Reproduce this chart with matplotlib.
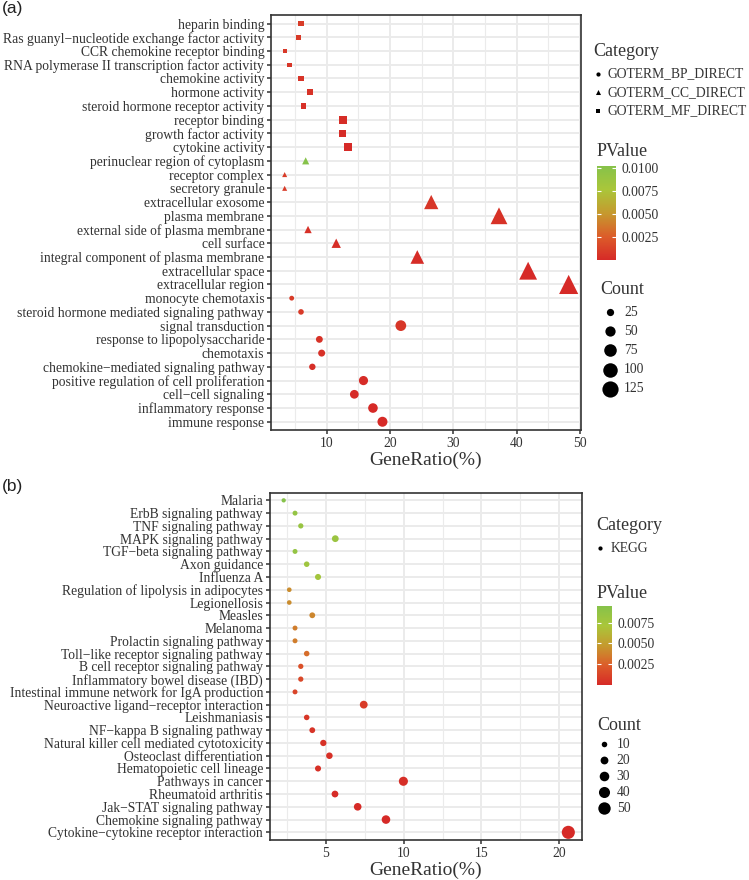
import matplotlib
matplotlib.use('Agg')
import matplotlib.pyplot as plt
import numpy as np
from matplotlib.colors import LinearSegmentedColormap, Normalize
from matplotlib.cm import ScalarMappable

plt.rcParams['font.family'] = ['Liberation Serif', 'DejaVu Serif']

# ---- panel (a): GO terms, listed top to bottom ----
go_terms = [
    'heparin binding', 'Ras guanyl\u2212nucleotide exchange factor activity',
    'CCR chemokine receptor binding', 'RNA polymerase II transcription factor activity',
    'chemokine activity', 'hormone activity', 'steroid hormone receptor activity',
    'receptor binding', 'growth factor activity', 'cytokine activity',
    'perinuclear region of cytoplasm', 'receptor complex', 'secretory granule',
    'extracellular exosome', 'plasma membrane', 'external side of plasma membrane',
    'cell surface', 'integral component of plasma membrane', 'extracellular space',
    'extracellular region', 'monocyte chemotaxis',
    'steroid hormone mediated signaling pathway', 'signal transduction',
    'response to lipopolysaccharide', 'chemotaxis',
    'chemokine\u2212mediated signaling pathway',
    'positive regulation of cell proliferation', 'cell\u2212cell signaling',
    'inflammatory response', 'immune response',
]
go_category = ['MF'] * 10 + ['CC'] * 10 + ['BP'] * 10
go_ratio = [5.94, 5.57, 3.36, 4.10, 5.94, 7.36, 6.30, 12.57, 12.50, 13.30,
            6.68, 3.36, 3.36, 26.5, 37.2, 7.05, 11.5, 24.3, 41.8, 48.2,
            4.47, 5.94, 21.7, 8.84, 9.20, 7.73, 15.8, 14.36, 17.3, 18.8]
go_count = [16, 15, 9, 11, 16, 20, 17, 34, 34, 36,
            18, 9, 9, 72, 100, 19, 31, 66, 113, 130,
            12, 16, 59, 24, 25, 21, 43, 39, 47, 51]
go_pvalue = [0.0009, 0.0008, 0.0007, 0.0006, 0.0005, 0.0004, 0.0003, 0.0002, 0.0001, 1e-6,
             0.0102, 0.0009, 0.0008, 0.0006, 0.0004, 0.0003, 0.0002, 0.0001, 1e-6, 1e-7,
             0.0009, 0.0008, 0.0006, 0.0004, 0.0003, 0.0002, 0.0001, 5e-5, 1e-6, 1e-8]
go_legend_names = ['GOTERM_BP_DIRECT', 'GOTERM_CC_DIRECT', 'GOTERM_MF_DIRECT']
go_size_breaks = [25, 50, 75, 100, 125]
go_p_ticks = [0.0025, 0.0050, 0.0075, 0.0100]

# ---- panel (b): KEGG pathways, listed top to bottom ----
kegg_terms = [
    'Malaria', 'ErbB signaling pathway', 'TNF signaling pathway',
    'MAPK signaling pathway', 'TGF\u2212beta signaling pathway', 'Axon guidance',
    'Influenza A', 'Regulation of lipolysis in adipocytes', 'Legionellosis',
    'Measles', 'Melanoma', 'Prolactin signaling pathway',
    'Toll\u2212like receptor signaling pathway', 'B cell receptor signaling pathway',
    'Inflammatory bowel disease (IBD)', 'Intestinal immune network for IgA production',
    'Neuroactive ligand\u2212receptor interaction', 'Leishmaniasis',
    'NF\u2212kappa B signaling pathway', 'Natural killer cell mediated cytotoxicity',
    'Osteoclast differentiation', 'Hematopoietic cell lineage', 'Pathways in cancer',
    'Rheumatoid arthritis', 'Jak\u2212STAT signaling pathway',
    'Chemokine signaling pathway', 'Cytokine\u2212cytokine receptor interaction',
]
kegg_ratio = [2.28, 3.01, 3.38, 5.60, 3.01, 3.76, 4.49, 2.64, 2.64, 4.12, 3.01, 3.01,
              3.76, 3.38, 3.38, 3.01, 7.43, 3.76, 4.12, 4.83, 5.22, 4.49, 9.98, 5.58,
              7.04, 8.86, 20.59]
kegg_count = [6, 8, 9, 15, 8, 10, 12, 7, 7, 11, 8, 8, 10, 9, 9, 8, 20, 10, 11, 13,
              14, 12, 27, 15, 19, 24, 56]
kegg_pvalue = [0.0095, 0.0086, 0.0083, 0.0081, 0.0086, 0.0078, 0.0076, 0.0042, 0.0042,
               0.0040, 0.0036, 0.0036, 0.0030, 0.0018, 0.0014, 0.0012, 0.0008, 0.0006,
               0.0005, 0.0004, 0.0003, 0.0003, 0.0002, 0.0001, 5e-5, 2e-5, 1e-6]
kegg_size_breaks = [10, 20, 30, 40, 50]
kegg_p_ticks = [0.0025, 0.0050, 0.0075]

W, H = 749, 880
TXT = '#333333'
GRID = '#ebebeb'
cmap = LinearSegmentedColormap.from_list(
    'pv', [(0, '#d62a27'), (0.25, '#dc5d2a'), (0.5, '#c59a2e'),
           (0.75, '#aac63a'), (1.0, '#86c24a')])
shape_marker = {'BP': 'o', 'CC': '^', 'MF': 's', 'KEGG': 'o'}
shape_scale = {'o': 1.0, '^': 1.2, 's': 0.95}


def box(left, top, right, bottom):
    """Pixel box -> figure fraction rect"""
    return [left / W, 1 - bottom / H, (right - left) / W, (bottom - top) / H]


def marker_area(count, k, marker):
    d_pt = k * np.sqrt(np.asarray(count, float)) * 0.72 * shape_scale[marker]
    return d_pt ** 2


def dot_panel(ax, terms, ratio, count, pvalue, cats, k, vmax, xlim, major, minor):
    n = len(terms)
    y = np.arange(n)[::-1] + 1
    norm = Normalize(0, vmax)
    ratio, count, pvalue, cats = map(np.asarray, (ratio, count, pvalue, cats))
    for cat in dict.fromkeys(cats):
        m = cats == cat
        mk = shape_marker[cat]
        ax.scatter(ratio[m], y[m], s=marker_area(count[m], k, mk),
                   c=pvalue[m], cmap=cmap, norm=norm, marker=mk,
                   linewidths=0, zorder=3)
    ax.set_ylim(0.4, n + 0.6)
    ax.set_xlim(*xlim)
    ax.set_yticks(y)
    ax.set_yticklabels(terms, fontsize=9.8, color=TXT)
    ax.set_xticks(major)
    ax.set_xticks(minor, minor=True)
    ax.tick_params(axis='x', which='major', labelsize=9.8, labelcolor=TXT,
                   color=TXT, length=3, width=1.1, pad=2)
    ax.tick_params(axis='x', which='minor', length=0)
    ax.tick_params(axis='y', color=TXT, length=3, width=1.1, pad=2)
    ax.grid(True, which='major', color=GRID, lw=1.4, zorder=0)
    ax.grid(True, which='minor', axis='x', color=GRID, lw=0.8, zorder=0)
    ax.set_axisbelow(True)
    for sp in ax.spines.values():
        sp.set_color('#333333')
        sp.set_linewidth(1.2)
    ax.set_xlabel('GeneRatio(%)', fontsize=14, color=TXT, labelpad=1)
    return norm


def add_colorbar(fig, rect, norm, ticks):
    cax = fig.add_axes(rect)
    cb = fig.colorbar(ScalarMappable(norm=norm, cmap=cmap), cax=cax, ticks=ticks)
    cb.outline.set_visible(False)
    cb.ax.set_yticklabels(['%.4f' % t for t in ticks])
    cb.ax.tick_params(left=True, right=True, labelleft=False, labelright=True,
                      direction='in', color='white', length=3, width=0.8,
                      labelsize=9.8, labelcolor=TXT, pad=4)


fig = plt.figure(figsize=(W / 100, H / 100), dpi=100, facecolor='white')

# panel (a)
ax1 = fig.add_axes(box(271.3, 15.3, 580.7, 430))
norm_a = dot_panel(ax1, go_terms, go_ratio, go_count, go_pvalue, go_category,
                   1.4, 0.0102, (1.25, 50.1), [10, 20, 30, 40, 50],
                   [5, 15, 25, 35, 45])

# panel (b)
ax2 = fig.add_axes(box(270, 492.7, 582, 840))
norm_b = dot_panel(ax2, kegg_terms, kegg_ratio, kegg_count, kegg_pvalue,
                   ['KEGG'] * len(kegg_terms), 1.75, 0.0095, (1.40, 21.47),
                   [5, 10, 15, 20], [2.5, 7.5, 12.5, 17.5])

# overlay in pixel coords for panel letters and legends
lg = fig.add_axes([0, 0, 1, 1], facecolor='none')
lg.set_xlim(0, W)
lg.set_ylim(H, 0)
lg.axis('off')

lg.text(2, 9, '(a)', fontsize=12.5, family=['Liberation Sans', 'DejaVu Sans'],
        va='center', ha='left', color='#222222')
lg.text(2, 486, '(b)', fontsize=12.5, family=['Liberation Sans', 'DejaVu Sans'],
        va='center', ha='left', color='#222222')

# legends for panel (a)
lg.text(593, 52, 'Category', fontsize=13, va='center', color=TXT)
for i, (name, mk) in enumerate(zip(go_legend_names, ['o', '^', 's'])):
    yy = 74 + i * 18.3
    lg.scatter([597.5], [yy], s=(4.2 * 0.72 * shape_scale[mk]) ** 2, marker=mk,
               color='black', linewidths=0)
    lg.text(607.5, yy, name, fontsize=9.8, va='center', color=TXT)

lg.text(597, 152, 'PValue', fontsize=13, va='center', color=TXT)
add_colorbar(fig, box(597, 165.7, 616, 260), norm_a, go_p_ticks)

lg.text(600, 290, 'Count', fontsize=13, va='center', color=TXT)
for i, c in enumerate(go_size_breaks):
    yy = 312 + i * 19.2
    lg.scatter([610], [yy], s=marker_area([c], 1.45, 'o'), color='black', linewidths=0)
    lg.text(624, yy, str(c), fontsize=9.8, va='center', color=TXT)

# legends for panel (b)
lg.text(596, 526, 'Category', fontsize=13, va='center', color=TXT)
lg.scatter([600], [548.3], s=(4.2 * 0.72) ** 2, marker='o', color='black',
           linewidths=0)
lg.text(611, 548.3, 'KEGG', fontsize=9.8, va='center', color=TXT)

lg.text(597, 593.3, 'PValue', fontsize=13, va='center', color=TXT)
add_colorbar(fig, box(597, 606, 611.7, 685), norm_b, kegg_p_ticks)

lg.text(597, 725, 'Count', fontsize=13, va='center', color=TXT)
for i, c in enumerate(kegg_size_breaks):
    yy = 744.3 + i * 16
    lg.scatter([604.3], [yy], s=marker_area([c], 1.75, 'o'), color='black',
               linewidths=0)
    lg.text(616.7, yy, str(c), fontsize=9.8, va='center', color=TXT)

fig.savefig('out.png', dpi=100, facecolor='white')
